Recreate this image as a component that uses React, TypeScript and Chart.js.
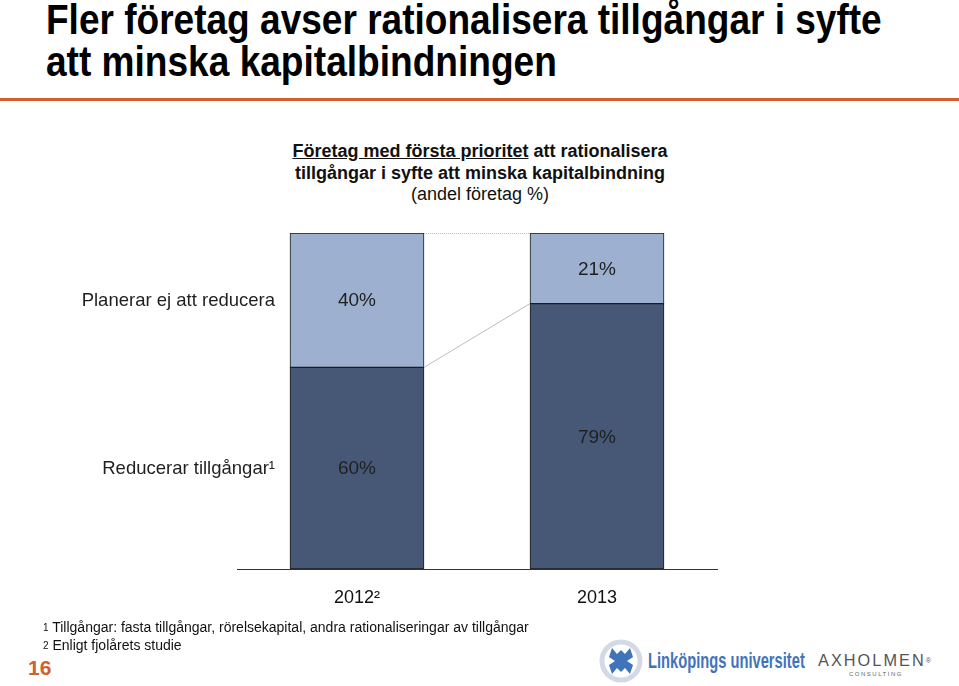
import React, { useEffect, useLayoutEffect, useRef } from "react";
import { Chart, registerables } from "chart.js";

Chart.register(...registerables);

const categories = ["2012²", "2013"];
const reduceLabel = "Reducerar tillgångar¹";
const notReduceLabel = "Planerar ej att reducera";
const reduceValues = [60, 79];
const notReduceValues = [40, 21];

const LIGHT = "#9DB0CF";
const DARK = "#475877";
const FONT = "'Liberation Sans', Arial, sans-serif";

const barExtras = {
  id: "barExtras",
  afterDatasetsDraw(chart: any) {
    const ctx = chart.ctx;
    const m0 = chart.getDatasetMeta(0);
    const m1 = chart.getDatasetMeta(1);
    ctx.save();
    const a0 = m0.data[0], b0 = m0.data[1];
    const a1 = m1.data[0], b1 = m1.data[1];
    const aRight = a0.x + a0.width / 2;
    const bLeft = b0.x - b0.width / 2;
    ctx.strokeStyle = "#bdbdbd";
    ctx.lineWidth = 1;
    ctx.beginPath();
    ctx.moveTo(aRight, a0.y);
    ctx.lineTo(bLeft, b0.y);
    ctx.stroke();
    ctx.setLineDash([1, 1]);
    ctx.beginPath();
    ctx.moveTo(aRight, a1.y + 0.5);
    ctx.lineTo(bLeft, b1.y + 0.5);
    ctx.stroke();
    ctx.setLineDash([]);
    ctx.font = `19px ${FONT}`;
    ctx.fillStyle = "#1f1f1f";
    ctx.textAlign = "center";
    ctx.textBaseline = "middle";
    [m0, m1].forEach((meta: any, di: number) => {
      const ds = chart.data.datasets[di];
      meta.data.forEach((el: any, i: number) => {
        const y = (el.y + el.base) / 2;
        ctx.fillText(ds.data[i] + "%", el.x, y + 1);
      });
    });
    ctx.font = `18.5px ${FONT}`;
    ctx.textAlign = "right";
    [m0, m1].forEach((meta: any, di: number) => {
      const el = meta.data[0];
      const y = (el.y + el.base) / 2;
      ctx.fillText(chart.data.datasets[di].label, el.x - el.width / 2 - 15, y + 1);
    });
    ctx.restore();
  },
};

function ChartBox() {
  const ref = useRef<HTMLCanvasElement>(null);
  useEffect(() => {
    if (!ref.current) return;
    const chart = new Chart(ref.current, {
      type: "bar",
      data: {
        labels: categories,
        datasets: [
          {
            label: reduceLabel,
            data: reduceValues,
            backgroundColor: DARK,
            borderColor: "#1c1c1c",
            borderWidth: 1,
            borderSkipped: false,
            barThickness: 134,
          },
          {
            label: notReduceLabel,
            data: notReduceValues,
            backgroundColor: LIGHT,
            borderColor: "#1c1c1c",
            borderWidth: 1,
            borderSkipped: false,
            barThickness: 134,
          },
        ],
      },
      options: {
        animation: false,
        responsive: false,
        maintainAspectRatio: false,
        layout: { padding: { top: 33, left: 237, right: 242, bottom: 5 } },
        plugins: { legend: { display: false }, tooltip: { enabled: false }, title: { display: false } },
        scales: {
          x: {
            stacked: true,
            grid: { display: false, drawTicks: false },
            border: { display: true, color: "#333", width: 1 },
            ticks: { color: "#111", font: { size: 18, family: FONT }, padding: 18 },
            afterFit: (s: any) => {
              s.height = 46;
            },
          },
          y: { stacked: true, display: false, min: 0, max: 100 },
        },
      },
      plugins: [barExtras],
    });
    return () => chart.destroy();
  }, []);
  return (
    <canvas
      ref={ref}
      width={959}
      height={420}
      style={{ position: "absolute", left: 0, top: 200, width: 959, height: 420 }}
    />
  );
}

function FitText({ width, style, children }: { width: number; style: React.CSSProperties; children: React.ReactNode }) {
  const ref = useRef<HTMLDivElement>(null);
  useLayoutEffect(() => {
    const el = ref.current;
    if (!el) return;
    el.style.transform = "none";
    const w = el.scrollWidth;
    if (w > 0) el.style.transform = `scaleX(${width / w})`;
  }, [width]);
  return (
    <div
      ref={ref}
      style={{ position: "absolute", whiteSpace: "nowrap", transformOrigin: "0 0", display: "inline-block", ...style }}
    >
      {children}
    </div>
  );
}

export default function App() {
  useEffect(() => {
    document.body.style.margin = "0";
  }, []);
  const base: React.CSSProperties = { position: "absolute", fontFamily: FONT, color: "#111", margin: 0 };
  return (
    <div style={{ position: "relative", width: 959, height: 686, background: "#fff", overflow: "hidden" }}>
      <FitText
        width={836}
        style={{ left: 46, top: -1, fontFamily: FONT, fontWeight: "bold", fontSize: 42, lineHeight: "42px", color: "#000" }}
      >
        Fler företag avser rationalisera tillgångar i syfte
      </FitText>
      <FitText
        width={511}
        style={{ left: 46, top: 41, fontFamily: FONT, fontWeight: "bold", fontSize: 42, lineHeight: "42px", color: "#000" }}
      >
        att minska kapitalbindningen
      </FitText>
      <div style={{ position: "absolute", left: 0, top: 98, width: 959, height: 3, background: "#D0612F" }} />
      <div
        style={{
          ...base,
          left: 180,
          width: 600,
          top: 141,
          textAlign: "center",
          fontSize: 18,
          lineHeight: "21.5px",
          color: "#111",
        }}
      >
        <b>
          <u>Företag med första prioritet</u> att rationalisera
        </b>
        <br />
        <b>tillgångar i syfte att minska kapitalbindning</b>
        <br />
        (andel företag %)
      </div>
      <ChartBox />
      <div style={{ ...base, left: 43, top: 619, fontSize: 14, lineHeight: "17.5px", whiteSpace: "nowrap" }}>
        <span style={{ fontSize: 10, verticalAlign: "top" }}>1</span> Tillgångar: fasta tillgångar, rörelsekapital, andra rationaliseringar av tillgångar
        <br />
        <span style={{ fontSize: 10, verticalAlign: "top" }}>2</span> Enligt fjolårets studie
      </div>
      <div style={{ ...base, left: 28, top: 656, fontSize: 21, fontWeight: "bold", color: "#D0612F" }}>16</div>
      <svg style={{ position: "absolute", left: 599, top: 639 }} width={44} height={44} viewBox="0 0 44 44">
        <circle cx={22} cy={22} r={19} fill="none" stroke="#d3dae6" strokeWidth={5} />
        <g fill="#3F74BA">
          <path d="M13 9 L18 15 L22 11 L26 15 L31 9 L34 18 L28 22 L34 26 L31 35 L26 29 L22 33 L18 29 L13 35 L10 26 L16 22 L10 18 Z" />
        </g>
      </svg>
      <FitText
        width={157}
        style={{ left: 648, top: 649, fontFamily: FONT, fontWeight: "bold", fontSize: 22, lineHeight: "24px", color: "#3F74BA" }}
      >
        Linköpings universitet
      </FitText>
      <FitText
        width={113}
        style={{ left: 818, top: 652, fontFamily: FONT, fontSize: 16, lineHeight: "18px", letterSpacing: 2, color: "#555" }}
      >
        AXHOLMEN<span style={{ fontSize: 7, verticalAlign: "top", letterSpacing: 0 }}>®</span>
      </FitText>
      <div style={{ ...base, left: 849, top: 671, fontSize: 6, letterSpacing: 1.5, color: "#666" }}>CONSULTING</div>
    </div>
  );
}
